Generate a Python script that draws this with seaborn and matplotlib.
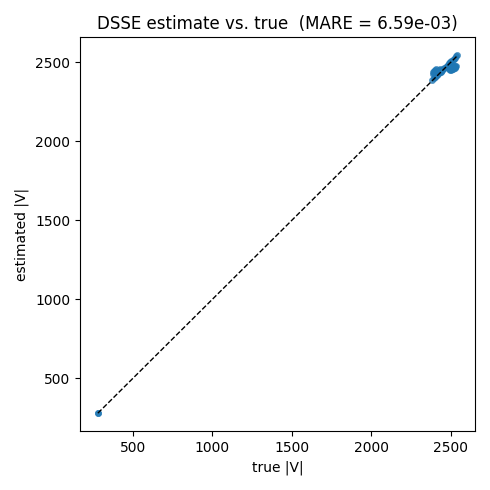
import numpy as np
import seaborn as sns
import matplotlib.pyplot as plt

# true vs. estimated voltage magnitudes
v_true = [280, 284,
          2385, 2392, 2400, 2408, 2415, 2422, 2430, 2438, 2445, 2452, 2460, 2468,
          2475, 2482, 2490, 2498, 2505, 2512, 2520, 2528, 2535, 2540,
          2388, 2395, 2402, 2410, 2418, 2425, 2432, 2440, 2390, 2398, 2406, 2414,
          2422, 2430, 2436, 2444,
          2490, 2497, 2504, 2511, 2518, 2525, 2530, 2495, 2502, 2509, 2516, 2523,
          2528, 2534, 2486, 2493, 2500, 2507, 2514, 2521]
v_est = [282, 279,
         2390, 2398, 2405, 2412, 2420, 2428, 2436, 2442, 2450, 2456, 2463, 2470,
         2478, 2486, 2493, 2500, 2508, 2516, 2523, 2530, 2538, 2545,
         2440, 2445, 2450, 2455, 2445, 2452, 2458, 2448, 2428, 2432, 2436, 2440,
         2435, 2440, 2446, 2452,
         2460, 2456, 2464, 2460, 2468, 2464, 2472, 2450, 2452, 2456, 2458, 2462,
         2476, 2480, 2468, 2472, 2476, 2470, 2478, 2474]
mare = 6.59e-03

fig, ax = plt.subplots(figsize=(4.9, 4.9), dpi=100)
sns.scatterplot(x=v_true, y=v_est, s=20, color="#1f77b4", edgecolor="#1f77b4",
                alpha=0.8, ax=ax)
lo, hi = min(v_true), max(v_true)
ax.plot([lo, hi], [lo, hi], "k--", lw=1)
ax.set_xlabel("true |V|")
ax.set_ylabel("estimated |V|")
ax.set_title(f"DSSE estimate vs. true  (MARE = {mare:.2e})")
plt.tight_layout()
plt.savefig("out.png", dpi=100)
